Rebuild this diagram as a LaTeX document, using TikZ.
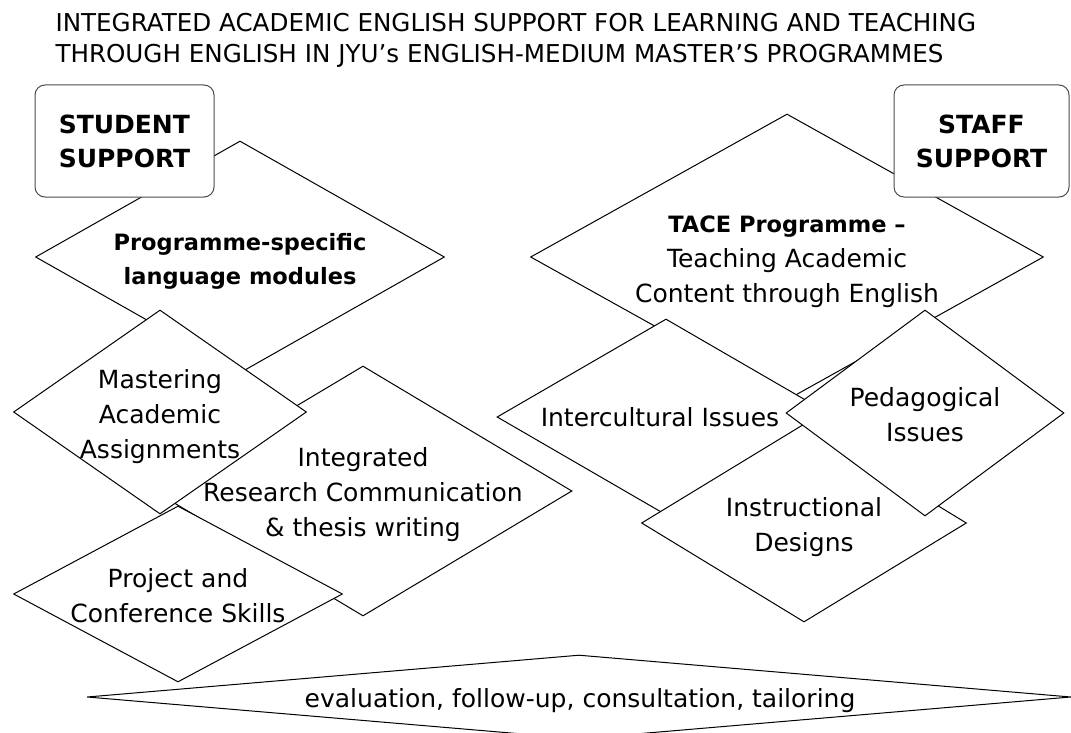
\documentclass[tikz,border=0pt]{standalone}
\usepackage{fontspec}
\setmainfont{DejaVu Sans}
\usetikzlibrary{shapes.geometric}

\begin{document}
\begin{tikzpicture}[x=1pt, y=-1pt,
    line width=1pt,
    blk/.style  = {diamond, draw, fill=white, inner sep=0pt},
    box/.style  = {draw=black!70, fill=white, rounded corners=10pt,
                   minimum height=112pt, inner sep=0pt,
                   font=\bfseries\fontsize{25}{34}\selectfont},
    lbl/.style  = {inner sep=0pt, align=center,
                   font=\fontsize{25}{35}\selectfont},
    lblb/.style = {lbl, font=\bfseries\fontsize{22.5}{34}\selectfont},
    ttl/.style  = {anchor=base west, inner sep=0pt,
                   font=\fontsize{24.6}{31}\selectfont}]
\useasboundingbox (0,0) rectangle (1071,733);

\node[ttl] (title1) at (55,31.5) {INTEGRATED ACADEMIC ENGLISH SUPPORT FOR LEARNING AND TEACHING};
\node[ttl] (title2) at (55,63) {THROUGH ENGLISH IN JYU's ENGLISH-MEDIUM MASTER'S PROGRAMMES};

% student side
\node[blk, minimum width=409pt, minimum height=232pt] (prog)   at (240,257) {};
\node[blk, minimum width=418pt, minimum height=250pt] (integ)  at (363,491) {};
\node[blk, minimum width=293pt, minimum height=204pt] (master) at (160,412) {};
\node[blk, minimum width=329pt, minimum height=176pt] (proj)   at (178,594) {};

% staff side
\node[blk, minimum width=513pt, minimum height=286pt] (tace)  at (787,257) {};
\node[blk, minimum width=338pt, minimum height=196pt] (inter) at (666,417) {};
\node[blk, minimum width=325pt, minimum height=198pt] (instr) at (804,523) {};
\node[blk, minimum width=278pt, minimum height=206pt] (peda)  at (925,413) {};

\node[blk, minimum width=984pt, minimum height=84pt] (eval) at (579,697) {};

\node[box, minimum width=179pt, align=left]   (stud)  at (124.5,141) {STUDENT\\SUPPORT};
\node[box, minimum width=175pt, align=center] (staff) at (981.5,141) {STAFF\\SUPPORT};

% texts
\node[lblb] (prog-t)   at ([yshift=-4pt]prog)   {Programme-specific\\language modules};
\node[lbl]  (master-t) at ([yshift=-5pt]master) {Mastering\\Academic\\Assignments};
\node[lbl]  (integ-t)  at ([yshift=-3.5pt]integ) {Integrated\\Research Communication\\\& thesis writing};
\node[lbl]  (proj-t)   at ([yshift=-2pt]proj)   {Project and\\Conference Skills};
\node[lbl]  (tace-t)   at ([yshift=-5pt]tace)
    {{\bfseries\fontsize{22.5}{35}\selectfont TACE Programme --}\\Teaching Academic\\Content through English};
\node[lbl]  (inter-t)  at ([xshift=-6pt]inter) {Intercultural Issues};
\node[lbl]  (peda-t)   at ([yshift=-1.5pt]peda) {Pedagogical\\Issues};
\node[lbl]  (instr-t)  at ([yshift=-4.5pt]instr) {Instructional\\Designs};
\node[lbl]  (eval-t)   at ([xshift=1pt,yshift=-4pt]eval) {evaluation, follow-up, consultation, tailoring};
\end{tikzpicture}
\end{document}
